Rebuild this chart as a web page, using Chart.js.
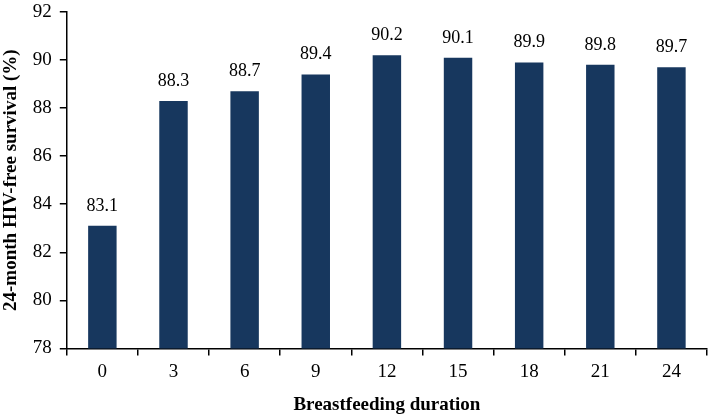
<!DOCTYPE html>
<html>
<head>
<meta charset="utf-8">
<script src="https://cdn.jsdelivr.net/npm/chart.js@4.4.0/dist/chart.umd.min.js"></script>
<style>
  html, body { margin: 0; padding: 0; background: #fff; }
  #wrap { width: 709px; height: 416px; }
</style>
</head>
<body>
<div id="wrap"><canvas id="mycanvas" width="709" height="416"></canvas></div>
<script>
// data
var durations = ["0", "3", "6", "9", "12", "15", "18", "21", "24"];
var survival = [83.1, 88.3, 88.7, 89.4, 90.2, 90.1, 89.9, 89.8, 89.7];

var serif = "'Liberation Serif', 'Times New Roman', serif";

// labels above each bar
var barLabels = {
  id: "barLabels",
  afterDatasetsDraw: function (chart) {
    var ctx = chart.ctx;
    var meta = chart.getDatasetMeta(0);
    ctx.save();
    ctx.font = "18px " + serif;
    ctx.fillStyle = "#000";
    ctx.textAlign = "center";
    ctx.textBaseline = "alphabetic";
    meta.data.forEach(function (bar, i) {
      ctx.fillText(survival[i].toFixed(1), bar.x, bar.y - 15);
    });
    ctx.restore();
  }
};

var chart = new Chart(document.getElementById("mycanvas"), {
  type: "bar",
  data: {
    labels: durations,
    datasets: [{
      data: survival,
      backgroundColor: "#17375e",
      borderWidth: 0,
      barPercentage: 0.4,
      categoryPercentage: 1.0
    }]
  },
  options: {
    responsive: false,
    animation: false,
    layout: { padding: { top: 12, right: 2, left: 0, bottom: 0 } },
    plugins: {
      legend: { display: false },
      tooltip: { enabled: false }
    },
    scales: {
      x: {
        grid: { drawOnChartArea: false, drawTicks: true, tickLength: 7, color: "#000", lineWidth: 1.5 },
        border: { color: "#000", width: 1.5 },
        ticks: { color: "#000", font: { family: serif, size: 19 }, padding: 5 },
        title: { display: true, text: "Breastfeeding duration", color: "#000", font: { family: serif, size: 19, weight: "bold" }, padding: { top: 5, bottom: 0 } }
      },
      y: {
        min: 78,
        max: 92,
        afterFit: function (scale) { scale.paddingTop = 0; },
        ticks: { stepSize: 2, color: "#000", font: { family: serif, size: 19 }, padding: 8 },
        grid: { drawOnChartArea: false, drawTicks: true, tickLength: 7, color: "#000", lineWidth: 1.5 },
        border: { color: "#000", width: 1.5 },
        title: { display: true, text: "24-month HIV-free survival (%)", color: "#000", font: { family: serif, size: 19, weight: "bold" }, padding: { top: 0, bottom: 2 } }
      }
    }
  },
  plugins: [barLabels]
});
</script>
</body>
</html>
